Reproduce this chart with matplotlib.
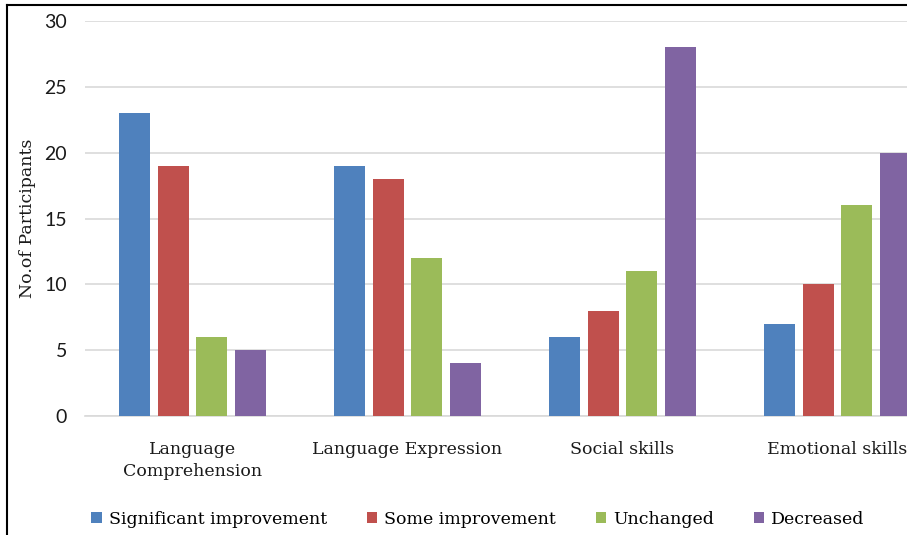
import numpy as np
import matplotlib
matplotlib.use("Agg")
import matplotlib.pyplot as plt
from matplotlib.lines import Line2D

categories = ["Language\nComprehension", "Language Expression", "Social skills", "Emotional skills"]
series = ["Significant improvement", "Some improvement", "Unchanged", "Decreased"]
significant = [23, 19, 6, 7]
some = [19, 18, 8, 10]
unchanged = [6, 12, 11, 16]
decreased = [5, 4, 28, 20]
colors = ["#4F81BD", "#C0504D", "#9BBB59", "#8064A2"]

W, H = 907, 535
fig = plt.figure(figsize=(W / 100, H / 100), dpi=100)
# axes runs past the right edge, like the cropped original
ax = fig.add_axes([85 / W, (H - 416) / H, (945 - 85) / W, (416 - 21) / H])

x = np.arange(len(categories))
bw = 0.144
step = 0.181
for i, (name, vals) in enumerate(zip(series, [significant, some, unchanged, decreased])):
    ax.bar(x + (i - 1.5) * step, vals, width=bw, color=colors[i], label=name, zorder=3)

ax.set_xlim(-0.5, len(categories) - 0.5)
ax.set_ylim(0, 30)
ax.set_yticks(range(0, 31, 5))
ax.yaxis.grid(True, color="#D9D9D9", linewidth=1.2, zorder=0)
for s in ["top", "right", "left"]:
    ax.spines[s].set_visible(False)
ax.spines["bottom"].set_color("#D9D9D9")
ax.spines["bottom"].set_linewidth(1.2)
ax.tick_params(axis="both", length=0)
ax.tick_params(axis="y", pad=13)
ax.tick_params(axis="x", pad=18)
ax.set_xticks(x)
ax.set_xticklabels(categories, fontsize=12.5, family="DejaVu Serif", color="#1a1a1a",
                   linespacing=1.4, va="top")
for lab in ax.get_yticklabels():
    lab.set_fontsize(14)
    lab.set_family("Lato")
    lab.set_color("#1a1a1a")
ax.set_ylabel("No.of Participants", fontsize=12.5, family="DejaVu Serif", color="#1a1a1a")
ax.yaxis.set_label_coords(-49 / (945 - 85), 0.5)

fig.legend(loc="center", bbox_to_anchor=(478 / W, 1 - 519 / H), ncol=4, frameon=False,
           prop={"family": "DejaVu Serif", "size": 12.5}, handlelength=0.6, handleheight=0.6,
           handletextpad=0.4, columnspacing=2.3)

# frame of the original image
fig.add_artist(Line2D([7 / W, 1], [1 - 5 / H, 1 - 5 / H], color="black", linewidth=1.5))
fig.add_artist(Line2D([7 / W, 7 / W], [0, 1 - 5 / H], color="black", linewidth=1.5))

fig.savefig("out.png", dpi=100)
